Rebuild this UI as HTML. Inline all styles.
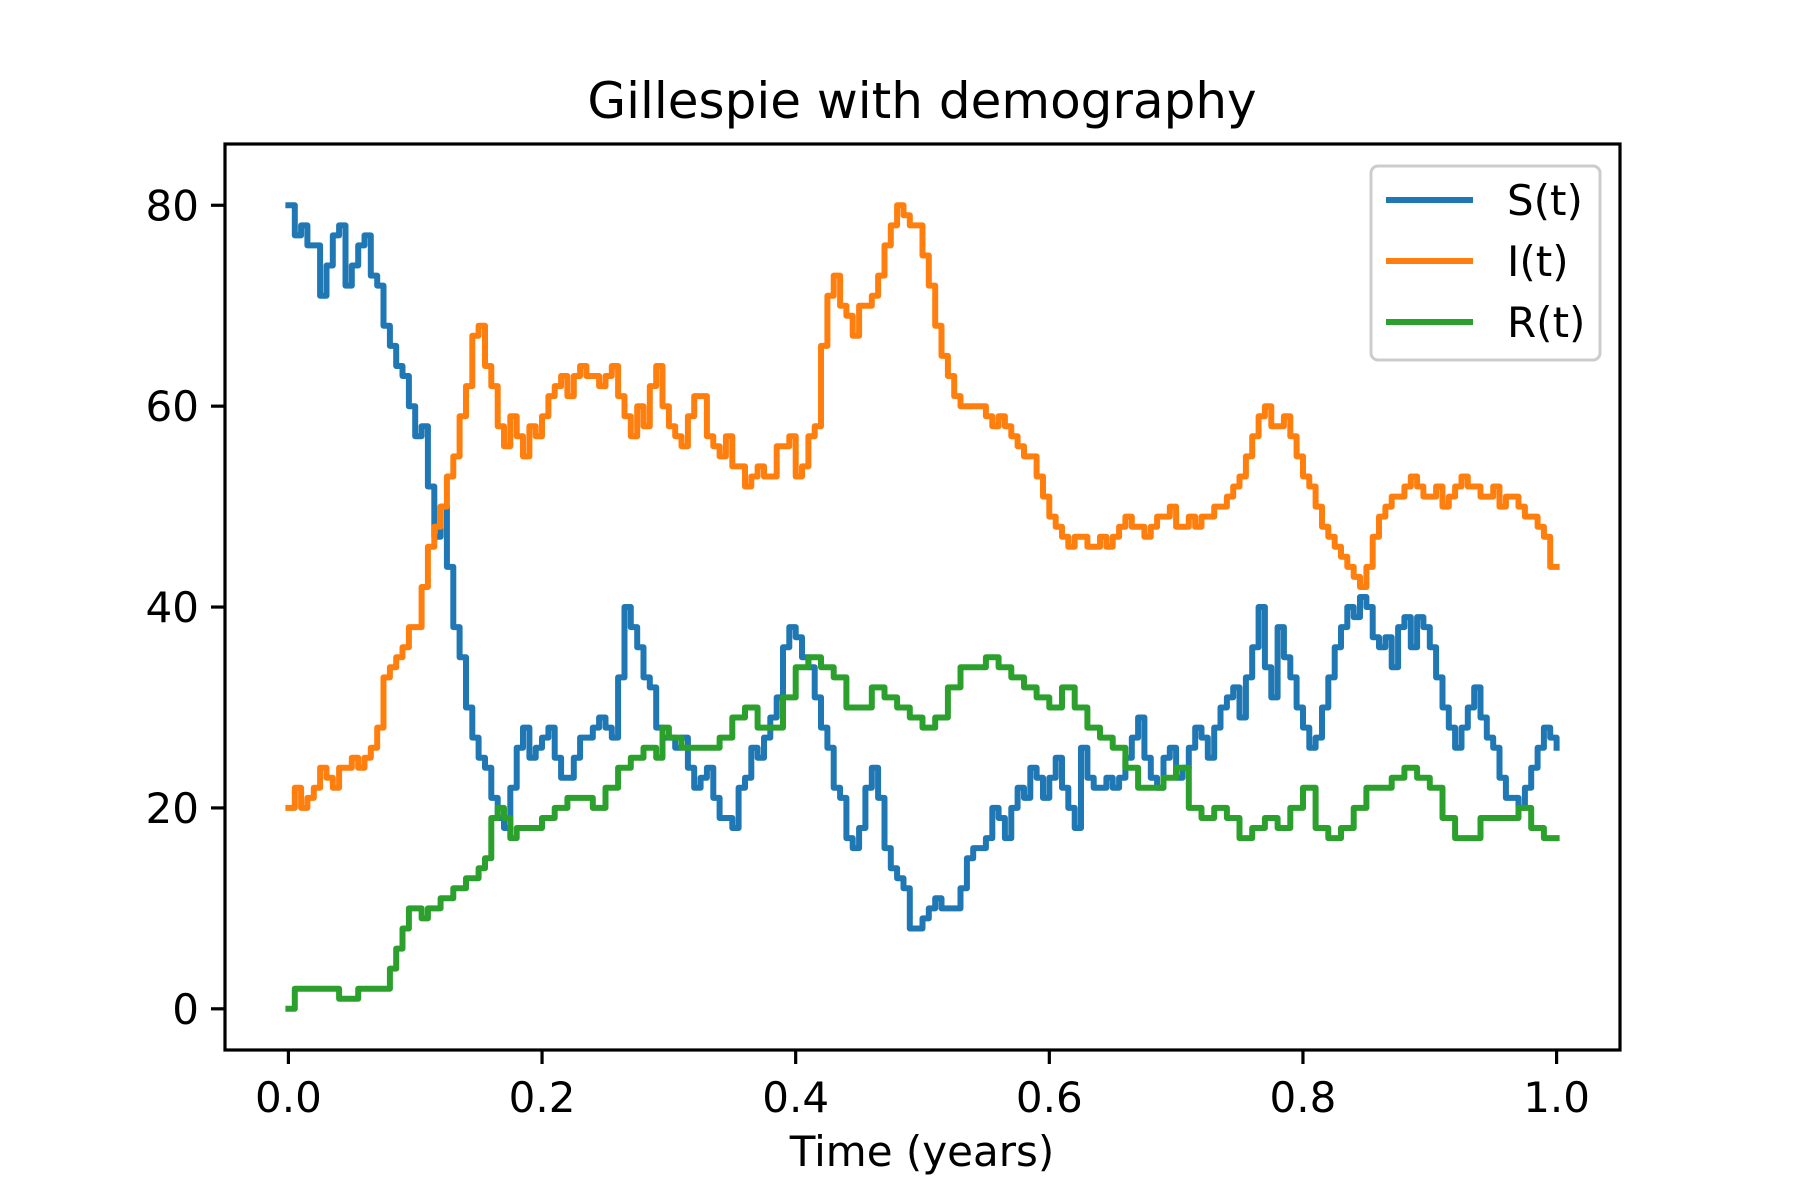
<!DOCTYPE html>
<html><head><meta charset="utf-8"><style>
html,body{margin:0;padding:0;background:#fff;}
svg{display:block;font-family:"DejaVu Sans","Liberation Sans",sans-serif;}
</style></head><body>
<svg id="chart" width="1800" height="1200" viewBox="0 0 1800 1200" xmlns="http://www.w3.org/2000/svg">
<rect x="0" y="0" width="1800" height="1200" fill="#fff"/>
<text x="922" y="118" font-size="50" text-anchor="middle">Gillespie with demography</text>
<g id="plot"></g>
<text x="922" y="1166" font-size="42" text-anchor="middle">Time (years)</text>
</svg>
<script>
const times = [0,.005,.01,.015,.02,.025,.03,.035,.04,.045,.05,.055,.06,.065,.07,.075,.08,.085,.09,.095,.1,.105,.11,.115,.12,.125,.13,.135,.14,.145,.15,.155,.16,.165,.17,.175,.18,.185,.19,.195,.2,.205,.21,.215,.22,.225,.23,.235,.24,.245,.25,.255,.26,.265,.27,.275,.28,.285,.29,.295,.3,.305,.31,.315,.32,.325,.33,.335,.34,.345,.35,.355,.36,.365,.37,.375,.38,.385,.39,.395,.4,.405,.41,.415,.42,.425,.43,.435,.44,.445,.45,.455,.46,.465,.47,.475,.48,.485,.49,.495,.5,.505,.51,.515,.52,.525,.53,.535,.54,.545,.55,.555,.56,.565,.57,.575,.58,.585,.59,.595,.6,.605,.61,.615,.62,.625,.63,.635,.64,.645,.65,.655,.66,.665,.67,.675,.68,.685,.69,.695,.7,.705,.71,.715,.72,.725,.73,.735,.74,.745,.75,.755,.76,.765,.77,.775,.78,.785,.79,.795,.8,.805,.81,.815,.82,.825,.83,.835,.84,.845,.85,.855,.86,.865,.87,.875,.88,.885,.89,.895,.9,.905,.91,.915,.92,.925,.93,.935,.94,.945,.95,.955,.96,.965,.97,.975,.98,.985,.99,.995,1];
const sValues = [80,77,78,76,76,71,74,77,78,72,74,76,77,73,72,68,66,64,63,60,57,58,52,47,50,44,38,35,30,27,25,24,21,19,18,22,26,28,25,26,27,28,25,23,23,25,27,27,28,29,28,27,33,40,38,36,33,32,28,27,27,26,27,24,22,23,24,21,19,19,18,22,23,26,25,27,29,31,36,38,37,35,34,31,28,26,22,21,17,16,18,22,24,21,16,14,13,12,8,8,9,10,11,10,10,10,12,15,16,16,17,20,19,17,20,22,21,24,23,21,23,25,22,20,18,26,23,22,22,23,22,23,25,27,29,25,23,22,25,26,23,24,26,28,27,25,28,30,31,32,29,33,36,40,34,31,38,35,33,30,28,26,27,30,33,36,38,40,39,41,40,37,36,37,34,38,39,36,39,38,36,33,30,28,26,28,30,32,29,27,26,23,21,21,20,22,24,26,28,27,26];
const iValues = [20,22,20,21,22,24,23,22,24,24,25,24,25,26,28,33,34,35,36,38,38,42,46,48,50,53,55,59,62,67,68,64,62,58,56,59,57,55,58,57,59,61,62,63,61,63,64,63,63,62,63,64,61,59,57,60,58,62,64,60,58,57,56,59,61,61,57,56,55,57,54,54,52,53,54,53,53,56,56,57,53,54,57,58,66,71,73,70,69,67,70,70,71,73,76,78,80,79,78,78,75,72,68,65,63,61,60,60,60,60,59,58,59,58,57,56,55,55,53,51,49,48,47,46,47,47,46,46,47,46,47,48,49,48,48,47,48,49,49,50,48,48,49,48,49,49,50,50,51,52,53,55,57,59,60,58,58,59,57,55,53,52,50,48,47,46,45,44,43,42,44,47,49,50,51,51,52,53,52,51,51,52,50,51,52,53,52,52,51,51,52,50,51,51,50,49,49,48,47,44,44];
const rValues = [0,2,2,2,2,2,2,2,1,1,1,2,2,2,2,2,4,6,8,10,10,9,10,10,11,11,12,12,13,13,14,15,19,20,19,17,18,18,18,18,19,19,20,20,21,21,21,21,20,20,22,22,24,24,25,25,26,26,25,28,27,27,26,26,26,26,26,26,27,27,29,29,30,30,28,28,28,28,31,31,34,34,35,35,34,34,33,33,30,30,30,30,32,32,31,31,30,30,29,29,28,28,29,29,32,32,34,34,34,34,35,35,34,34,33,33,32,32,31,31,30,30,32,32,30,30,28,28,27,27,26,26,24,24,22,22,22,22,23,23,24,24,20,20,19,19,20,20,19,19,17,17,18,18,19,19,18,18,20,20,22,22,18,18,17,17,18,18,20,20,22,22,22,22,23,23,24,24,23,23,22,22,19,19,17,17,17,17,19,19,19,19,19,19,20,20,18,18,17,17,17];
const xTicks = [0,0.2,0.4,0.6,0.8,1.0];
const xTickLabels = ["0.0","0.2","0.4","0.6","0.8","1.0"];
const yTicks = [0,20,40,60,80];
const yTickLabels = ["0","20","40","60","80"];
const seriesNames = ["S(t)","I(t)","R(t)"];
const seriesColors = ["#1f77b4","#ff7f0e","#2ca02c"];

const NS = "http://www.w3.org/2000/svg";
const L=225,R=1620,T=144,B=1050;
const xMin=-0.05,xMax=1.05,yMin=-4.1,yMax=86.1;
function xs(v){return L+(v-xMin)/(xMax-xMin)*(R-L);}
function ys(v){return B-(v-yMin)/(yMax-yMin)*(B-T);}
const plot=document.getElementById('plot');
function mk(tag,attrs,parent){const e=document.createElementNS(NS,tag);for(const k in attrs)e.setAttribute(k,attrs[k]);(parent||plot).appendChild(e);return e;}

const clip=mk('clipPath',{id:'clipA'});
mk('rect',{x:L,y:T,width:R-L,height:B-T},clip);

const all=[sValues,iValues,rValues];
const sNames=['series-s','series-i','series-r'];
all.forEach((vals,si)=>{
  let d='';
  const n=Math.min(vals.length,times.length);
  for(let i=0;i<n;i++){
    const x=xs(times[i]).toFixed(1), y=ys(vals[i]).toFixed(1);
    if(i===0) d+='M'+x+' '+y;
    else d+=' H'+x+' V'+y;
  }
  const p=mk('path',{d:d,fill:'none',stroke:seriesColors[si],'stroke-width':6,'stroke-linejoin':'round','stroke-linecap':'square','clip-path':'url(#clipA)'});
  
  
});

const frame=mk('rect',{x:L,y:T,width:R-L,height:B-T,fill:'none',stroke:'#000','stroke-width':3.2});



xTicks.forEach((v,i)=>{
  const x=xs(v);
  const t=mk('line',{x1:x,x2:x,y1:B,y2:B+14,stroke:'#000','stroke-width':3.2});
  
  
  const lb=mk('text',{x:x,y:B+62,'font-size':42,'text-anchor':'middle'});
  lb.textContent=xTickLabels[i];
  
  
});
yTicks.forEach((v,i)=>{
  const y=ys(v);
  const t=mk('line',{x1:L-14,x2:L,y1:y,y2:y,stroke:'#000','stroke-width':3.2});
  
  
  const lb=mk('text',{x:L-26,y:y+15,'font-size':42,'text-anchor':'end'});
  lb.textContent=yTickLabels[i];
  
  
});

const lg=mk('g',{});


mk('rect',{x:1371,y:166,width:229,height:194,rx:7,fill:'#fff','fill-opacity':0.8,stroke:'#ccc','stroke-width':3},lg);
seriesNames.forEach((nm,i)=>{
  const y=200+i*61;
  const g=mk('g',{},lg);
  
  
  mk('line',{x1:1386,x2:1473,y1:y,y2:y,stroke:seriesColors[i],'stroke-width':6},g);
  const t=mk('text',{x:1507,y:y+15,'font-size':42},g);
  t.textContent=nm;
});
</script>
</body></html>
